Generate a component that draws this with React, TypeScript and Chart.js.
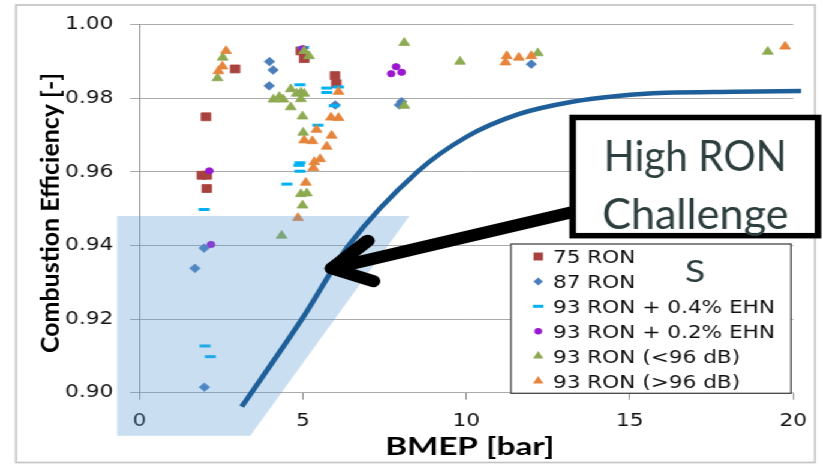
import React, { useEffect, useRef } from 'react';
import { Chart, registerables } from 'chart.js';

Chart.register(...registerables);

// ---------- output geometry (the reference is horizontally stretched) ----------
const OUT_W = 823;
const OUT_H = 464;
const CANVAS_W = 686;
const SX = OUT_W / CANVAS_W;

// ---------- data ----------
const seriesLabels = ['75 RON', '87 RON', '93 RON + 0.4% EHN', '93 RON + 0.2% EHN', '93 RON (<96 dB)', '93 RON (>96 dB)'];
const xTitle = 'BMEP [bar]';
const yTitle = 'Combustion Efficiency [-]';
const calloutLines = ['High RON', 'Challenge'];
const strayLetter = 'S';

const ron75Bmep = [2.93, 2.04, 1.91, 2.06, 2.06, 4.94, 5.04, 5.98, 6.02];
const ron75Eff = [0.988, 0.975, 0.9591, 0.9591, 0.9555, 0.9929, 0.9908, 0.9862, 0.984];

const ron87Bmep = [3.98, 4.09, 3.97, 5.99, 8.02, 7.95, 11.99, 1.98, 1.7, 1.99];
const ron87Eff = [0.99, 0.9877, 0.9834, 0.9782, 0.9791, 0.9782, 0.9893, 0.9393, 0.9338, 0.9015];

const ehn04Bmep = [1.98, 2.01, 2.17, 4.51, 4.91, 4.88, 4.91, 4.91, 5.02, 5.46, 5.73, 5.73, 6.09, 5.96];
const ehn04Eff = [0.9498, 0.9127, 0.9098, 0.9567, 0.9625, 0.9618, 0.9602, 0.9837, 0.9938, 0.9727, 0.9828, 0.9816, 0.9831, 0.978];

const ehn02Bmep = [2.14, 2.19, 5.0, 7.7, 7.85, 8.02];
const ehn02Eff = [0.9603, 0.9403, 0.9935, 0.9867, 0.9886, 0.9871];

const lowDbBmep = [2.39, 2.55, 4.1, 4.28, 4.4, 4.63, 4.63, 4.81, 4.94, 5.04, 4.94, 4.99, 5.01, 4.94, 5.12, 4.99, 4.35, 5.04, 5.19, 8.1, 8.1, 9.81, 12.19, 19.22];
const lowDbEff = [0.9855, 0.9911, 0.9797, 0.9804, 0.9797, 0.9825, 0.9776, 0.9813, 0.9816, 0.9813, 0.9798, 0.9751, 0.9707, 0.954, 0.9542, 0.9509, 0.9427, 0.9929, 0.9915, 0.9951, 0.978, 0.99, 0.9923, 0.9927];

const highDbBmep = [2.65, 2.54, 2.42, 4.85, 5.04, 5.29, 5.42, 5.09, 5.35, 5.32, 5.53, 5.73, 5.88, 5.86, 6.09, 6.09, 11.24, 11.2, 11.61, 11.99, 19.75];
const highDbEff = [0.9929, 0.9887, 0.9874, 0.9475, 0.9686, 0.9684, 0.9715, 0.9571, 0.9627, 0.9611, 0.9635, 0.9669, 0.9699, 0.9748, 0.9747, 0.9818, 0.9915, 0.9898, 0.9911, 0.9915, 0.9941];

const curveBmep = [3.13, 4.97, 6.4, 8.5, 10.0, 11.6, 13.2, 14.7, 16.1, 18.2, 20.24];
const curveEff = [0.8962, 0.92, 0.94, 0.96, 0.9695, 0.9757, 0.979, 0.9807, 0.9815, 0.9818, 0.982];

// shaded "challenge" region (BMEP, efficiency corners)
const regionBmep = [-0.68, 8.26, 3.39, -0.68];
const regionEff = [0.948, 0.948, 0.8883, 0.8883];

// arrow (BMEP, efficiency)
const arrowTail = [13.26, 0.9491];
const arrowTip = [5.89, 0.9338];
const arrowUpper = [6.98, 0.9413];
const arrowLower = [7.15, 0.9303];

// callout box corners (BMEP, efficiency)
const calloutBmep = [13.255, 20.755];
const calloutEff = [0.97481, 0.94268];

// ---------- styles ----------
const COLORS = ['#A8423F', '#4A7EBB', '#00B0F0', '#9B16CF', '#8DAA50', '#E5843A'];
const STYLES = ['rect', 'rectRot', 'line', 'circle', 'triangle', 'triangle'];
const RADII = [5.6, 4.3, 4.6, 3.2, 5.2, 5.2];
const LEGEND_RADII = [5.6, 4, 4.4, 3.2, 5, 5];
const TEXT_DARK = '#2D3E3E';

function xy(xs: number[], ys: number[]) {
  return xs.map((x, i) => ({ x, y: ys[i] }));
}

function drawMarker(ctx: CanvasRenderingContext2D, style: string, color: string, x: number, y: number, r: number) {
  ctx.save();
  ctx.fillStyle = color;
  ctx.strokeStyle = color;
  ctx.beginPath();
  if (style === 'rect') {
    const s = r * Math.SQRT1_2;
    ctx.rect(x - s, y - s, 2 * s, 2 * s);
    ctx.fill();
  } else if (style === 'rectRot') {
    ctx.moveTo(x - r, y);
    ctx.lineTo(x, y - r);
    ctx.lineTo(x + r, y);
    ctx.lineTo(x, y + r);
    ctx.closePath();
    ctx.fill();
  } else if (style === 'line') {
    ctx.lineWidth = 3;
    ctx.moveTo(x - r, y);
    ctx.lineTo(x + r, y);
    ctx.stroke();
  } else if (style === 'circle') {
    ctx.arc(x, y, r, 0, Math.PI * 2);
    ctx.fill();
  } else {
    const h = Math.sin(Math.PI / 3) * r;
    ctx.moveTo(x, y - r);
    ctx.lineTo(x + h, y + r / 2);
    ctx.lineTo(x - h, y + r / 2);
    ctx.closePath();
    ctx.fill();
  }
  ctx.restore();
}

function fitText(ctx: CanvasRenderingContext2D, text: string, cx: number, baseline: number, targetW: number) {
  const w = ctx.measureText(text).width;
  ctx.save();
  ctx.translate(cx, baseline);
  ctx.scale(targetW / w, 1);
  ctx.textAlign = 'center';
  ctx.textBaseline = 'alphabetic';
  ctx.fillText(text, 0, 0);
  ctx.restore();
}

const CURVE_INDEX = 6;

const decorPlugin = {
  id: 'decor',
  beforeDraw(chart: any) {
    const ctx = chart.ctx;
    ctx.save();
    ctx.strokeStyle = '#C4C4C4';
    ctx.lineWidth = 1.7;
    ctx.strokeRect(16 / SX, 5, (815 - 16) / SX, 457.5);
    ctx.restore();
  },
  beforeDatasetDraw(chart: any, args: any) {
    if (args.index !== CURVE_INDEX) return;
    const ctx = chart.ctx;
    const xs = chart.scales.x;
    const ys = chart.scales.y;
    ctx.save();
    ctx.fillStyle = 'rgba(91,155,213,0.33)';
    ctx.beginPath();
    regionBmep.forEach((b, i) => {
      const px = xs.getPixelForValue(b);
      const py = ys.getPixelForValue(regionEff[i]);
      if (i === 0) ctx.moveTo(px, py);
      else ctx.lineTo(px, py);
    });
    ctx.closePath();
    ctx.fill();
    ctx.restore();
  },
  afterDraw(chart: any) {
    const ctx: CanvasRenderingContext2D = chart.ctx;
    const xs = chart.scales.x;
    const ys = chart.scales.y;
    const px = (v: number) => xs.getPixelForValue(v);
    const py = (v: number) => ys.getPixelForValue(v);

    // arrow
    ctx.save();
    ctx.strokeStyle = '#000';
    ctx.lineWidth = 12;
    ctx.lineCap = 'round';
    ctx.lineJoin = 'round';
    ctx.beginPath();
    ctx.moveTo(px(arrowTail[0]), py(arrowTail[1]));
    ctx.lineTo(px(arrowTip[0]), py(arrowTip[1]));
    ctx.stroke();
    ctx.beginPath();
    ctx.moveTo(px(arrowUpper[0]), py(arrowUpper[1]));
    ctx.lineTo(px(arrowTip[0]), py(arrowTip[1]));
    ctx.lineTo(px(arrowLower[0]), py(arrowLower[1]));
    ctx.stroke();
    ctx.restore();

    // callout box
    const bx0 = px(calloutBmep[0]);
    const bx1 = px(calloutBmep[1]);
    const by0 = py(calloutEff[0]);
    const by1 = py(calloutEff[1]);
    ctx.save();
    ctx.fillStyle = '#fff';
    ctx.fillRect(bx0, by0, bx1 - bx0, by1 - by0);
    ctx.strokeStyle = '#000';
    ctx.lineWidth = 5.5;
    ctx.strokeRect(bx0, by0, bx1 - bx0, by1 - by0);
    ctx.fillStyle = TEXT_DARK;
    ctx.font = '42px Lato';
    const cx = (bx0 + bx1) / 2;
    fitText(ctx, calloutLines[0], cx, by0 + 54, 183 / SX);
    fitText(ctx, calloutLines[1], cx, by0 + 111.3, 186.5 / SX);
    ctx.restore();

    // legend
    ctx.save();
    const lx0 = 511 / SX, lx1 = 791 / SX, ly0 = 244, ly1 = 393.3;
    ctx.fillStyle = '#fff';
    ctx.fillRect(lx0, ly0, lx1 - lx0, ly1 - ly0);
    ctx.strokeStyle = '#474747';
    ctx.lineWidth = 1.3;
    ctx.strokeRect(lx0, ly0, lx1 - lx0, ly1 - ly0);
    ctx.font = '18px "DejaVu Sans"';
    ctx.textAlign = 'left';
    ctx.textBaseline = 'alphabetic';
    seriesLabels.forEach((lab, i) => {
      const cy = 256.5 + i * 24.9;
      drawMarker(ctx, STYLES[i], COLORS[i], 538.3 / SX, cy, LEGEND_RADII[i]);
      ctx.fillStyle = '#111';
      ctx.fillText(lab, 553 / SX, cy + 6.6);
    });
    ctx.fillStyle = TEXT_DARK;
    ctx.font = '31px Lato';
    ctx.textAlign = 'center';
    ctx.fillText(strayLetter, 695 / SX, 281.7);
    ctx.restore();

    // axis titles
    ctx.save();
    ctx.fillStyle = '#000';
    ctx.font = 'bold 24px Lato';
    fitText(ctx, xTitle, 469.7 / SX, 455, 169.3 / SX);
    ctx.font = 'bold 21px Lato';
    const w = ctx.measureText(yTitle).width;
    ctx.translate(58.3 / SX, 213);
    ctx.rotate(-Math.PI / 2);
    ctx.scale(280 / w, 1);
    ctx.textAlign = 'center';
    ctx.fillText(yTitle, 0, 0);
    ctx.restore();
  },
};

export default function App() {
  const ref = useRef<HTMLCanvasElement>(null);
  useEffect(() => {
    document.body.style.margin = '0';
    document.body.style.overflow = 'hidden';
    const scatterSets = [
      [ron75Bmep, ron75Eff],
      [ron87Bmep, ron87Eff],
      [ehn04Bmep, ehn04Eff],
      [ehn02Bmep, ehn02Eff],
      [lowDbBmep, lowDbEff],
      [highDbBmep, highDbEff],
    ].map(([xs, ys], i) => ({
      label: seriesLabels[i],
      data: xy(xs, ys),
      pointStyle: STYLES[i],
      pointRadius: RADII[i],
      pointBackgroundColor: COLORS[i],
      pointBorderColor: COLORS[i],
      pointBorderWidth: STYLES[i] === 'line' ? 3 : 0.8,
      showLine: false,
      order: 6 - i,
      clip: false,
    }));
    const curveSet = {
      label: 'curve',
      data: xy(curveBmep, curveEff),
      showLine: true,
      borderColor: '#1F5F99',
      backgroundColor: '#1F5F99',
      borderWidth: 4.5,
      pointRadius: 0,
      cubicInterpolationMode: 'monotone',
      fill: false,
      clip: false,
      order: 0,
    };
    const tickFont = { family: 'DejaVu Sans', size: 18 };
    const chart = new Chart(ref.current as HTMLCanvasElement, {
      type: 'scatter',
      data: { datasets: [...scatterSets, curveSet] as any },
      options: {
        responsive: false,
        maintainAspectRatio: false,
        animation: false,
        events: [],
        layout: { padding: { left: 0, top: 18.3, right: CANVAS_W - 793.3 / SX, bottom: 0 } },
        plugins: { legend: { display: false }, tooltip: { enabled: false }, title: { display: false } },
        scales: {
          x: {
            type: 'linear',
            position: 'bottom',
            min: 0,
            max: 20,
            ticks: { stepSize: 5, font: tickFont, color: '#111', padding: 11, maxRotation: 0, autoSkip: false },
            grid: { display: true, drawOnChartArea: false, drawTicks: true, tickLength: 7, color: '#8E8E8E', lineWidth: 1 },
            border: { display: false },
            afterFit: (s: any) => { s.height = OUT_H - 392.7; },
          },
          y: {
            type: 'linear',
            min: 0.9,
            max: 1.0,
            ticks: { stepSize: 0.02, font: tickFont, color: '#111', padding: 14, callback: (v: any) => Number(v).toFixed(2) },
            grid: { color: '#ABABAB', lineWidth: 1, drawTicks: true, tickLength: 7.75 },
            border: { display: true, color: '#8E8E8E', width: 1 },
            afterFit: (s: any) => { s.width = 139.3 / SX; },
          },
        },
      } as any,
      plugins: [decorPlugin],
    });
    return () => chart.destroy();
  }, []);
  return (
    <div
      style={{
        position: 'absolute',
        left: 0,
        top: 0,
        width: CANVAS_W,
        height: OUT_H,
        transform: `scaleX(${SX})`,
        transformOrigin: '0 0',
        background: '#fff',
      }}
    >
      <canvas ref={ref} width={CANVAS_W} height={OUT_H} style={{ display: 'block', width: CANVAS_W, height: OUT_H }} />
    </div>
  );
}
